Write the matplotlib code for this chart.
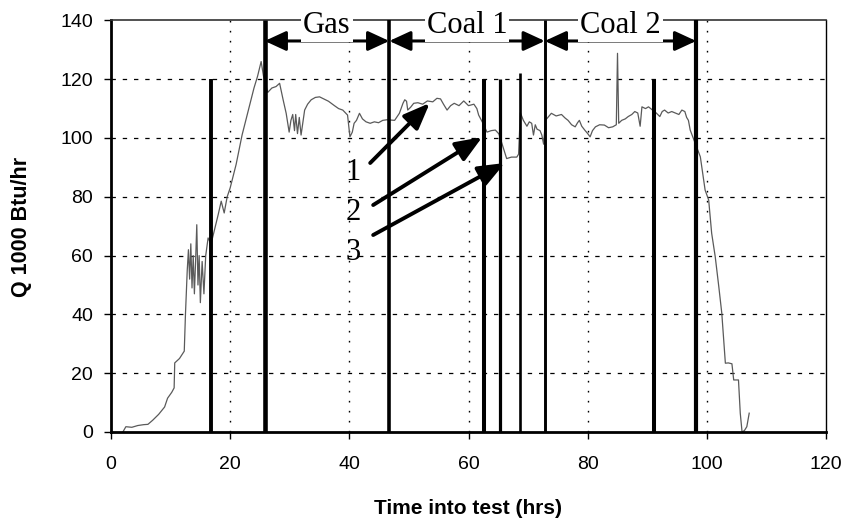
import matplotlib
matplotlib.use("Agg")
import matplotlib.pyplot as plt

# ---------------- data ----------------
time_hrs = [2.0, 2.5, 3.5, 4.5, 5.5, 6.2, 7.0, 8.0, 9.0, 9.5, 10.2, 10.6, 10.7, 11.5, 12.3,
            12.5, 12.8, 13.0, 13.2, 13.4, 13.6, 13.8, 14.0, 14.2, 14.4, 14.6, 14.8, 15.0,
            15.3, 15.6, 15.9, 16.3, 16.8, 17.4, 18.0, 18.5, 19.0, 19.5, 20.0, 21.0, 22.0,
            23.0, 24.0, 24.6, 25.2, 25.6, 26.3, 27.0, 27.7, 28.3, 28.9, 29.4, 29.9, 30.2,
            30.5, 30.8, 31.0, 31.3, 31.6, 31.9, 32.5, 33.0, 33.6, 34.3, 35.0, 35.7, 36.5,
            37.5, 38.2, 38.9, 39.7, 40.1, 40.5, 40.8, 41.2, 41.7, 42.2, 42.8, 43.5, 44.2,
            44.9, 45.6, 46.3, 47.6, 48.4, 49.0, 49.3, 49.6, 49.8, 50.3, 50.8, 51.5, 52.3,
            53.1, 54.0, 54.7, 55.3, 55.8, 56.4, 57.0, 57.6, 58.4, 59.2, 60.0, 60.9, 61.4,
            61.7, 62.3, 63.1, 63.8, 64.5, 65.1, 66.4, 67.2, 68.1, 68.4, 68.7, 69.2, 69.8,
            70.2, 70.6, 70.9, 71.2, 71.5, 72.0, 72.3, 72.6, 72.9, 73.9, 74.7, 75.6, 76.2,
            76.7, 77.3, 77.9, 78.3, 78.6, 79.0, 79.5, 80.0, 80.4, 80.8, 81.3, 82.0, 82.8,
            83.5, 84.2, 84.8, 85.0, 85.2, 85.7, 86.3, 86.8, 87.4, 87.9, 88.4, 88.8, 89.1,
            89.7, 90.2, 91.5, 92.1, 92.5, 92.9, 93.5, 94.1, 94.7, 95.3, 95.8, 96.3, 96.6,
            96.9, 97.2, 98.9, 99.3, 99.7, 100.3, 100.8, 101.4, 102.0, 102.5, 102.8, 103.1,
            103.6, 104.2, 104.5, 105.3, 105.6, 105.9, 106.3, 106.7, 107.1]
q_kbtu = [0.0, 1.8, 1.6, 2.2, 2.5, 2.6, 4.0, 6.0, 8.5, 11.5, 13.5, 15.0, 23.5, 25.0, 27.5,
          40.0, 55.0, 62.0, 52.0, 64.0, 49.0, 60.0, 47.0, 58.0, 70.5, 50.0, 60.0, 44.0,
          58.0, 47.0, 60.0, 66.0, 64.0, 69.0, 74.0, 78.5, 74.5, 80.0, 83.0, 91.0, 101.0,
          109.0, 117.0, 121.0, 126.0, 121.0, 115.5, 117.0, 117.5, 118.6, 112.9, 108.4, 102.0, 106.0,
          108.0, 102.5, 108.0, 101.5, 107.0, 101.0, 109.5, 111.5, 113.0, 113.8, 114.0, 113.3, 112.5,
          111.0, 110.0, 109.5, 107.8, 100.4, 102.0, 105.0, 106.0, 108.4, 106.5, 105.5, 105.0, 105.5,
          105.2, 106.0, 106.2, 106.0, 108.4, 111.8, 113.0, 112.5, 109.5, 110.5, 111.8, 112.0, 111.5,
          112.6, 112.3, 113.5, 113.3, 111.5, 109.5, 111.0, 111.8, 111.0, 112.6, 111.0, 111.5, 110.0,
          107.8, 105.5, 102.0, 102.5, 102.7, 101.4, 93.0, 93.5, 93.5, 94.5, 108.6, 106.0, 104.0,
          105.5, 105.0, 101.0, 104.5, 103.0, 102.5, 101.0, 97.9, 106.0, 108.4, 107.5, 108.0, 106.8,
          106.0, 104.5, 103.8, 105.2, 106.0, 104.0, 102.7, 101.5, 100.4, 102.5, 103.8, 104.5, 104.4,
          103.5, 103.8, 104.5, 128.8, 105.0, 106.0, 106.5, 107.3, 108.0, 109.0, 108.5, 104.0, 110.6,
          110.0, 110.6, 108.5, 107.3, 109.0, 109.5, 108.5, 109.0, 108.5, 108.0, 109.5, 109.0, 107.0,
          106.0, 102.7, 93.6, 88.0, 82.3, 78.9, 67.6, 59.6, 49.4, 40.4, 32.0, 23.4,
          23.5, 23.2, 17.7, 17.7, 6.4, 0.0, 0.5, 1.8, 6.4]

marker_x = [16.8, 25.8, 46.7, 62.6, 65.3, 68.6, 72.8, 91.1, 98.2]
marker_top = [120, 140, 140, 120, 120, 122, 140, 120, 140]

phase_labels = ["Gas", "Coal 1", "Coal 2"]
phase_start = [25.8, 46.7, 72.8]
phase_end = [46.7, 72.8, 98.2]

point_labels = ["1", "2", "3"]
point_label_xy = [(40.6, 88.4), (40.6, 74.8), (40.6, 61.2)]
point_tail = [(43.5, 91.5), (44.0, 77.2), (44.0, 67.0)]
point_head = [(53.5, 111.9), (62.3, 100.3), (66.1, 91.5)]

x_ticks = [0, 20, 40, 60, 80, 100, 120]
y_ticks = [0, 20, 40, 60, 80, 100, 120, 140]

# ---------------- styles ----------------
marker_widths = [2.8, 3.3, 2.6, 2.9, 2.3, 1.9, 2.1, 2.9, 3.0]
serif = ["Liberation Serif", "DejaVu Serif"]
sans = ["Liberation Sans", "DejaVu Sans"]

fig = plt.figure(figsize=(8.49, 5.23), dpi=100)
ax = fig.add_axes([0.1307, 0.174, 0.8423, 0.787])
ax.set_xlim(0, 120)
ax.set_ylim(0, 140)

# grid
for yv in y_ticks[1:-1]:
    l, = ax.plot([0, 120], [yv, yv], color="black", lw=0.9, zorder=1)
    l.set_dashes([3.5, 5.5])
for xv in x_ticks[1:-1]:
    l, = ax.plot([xv, xv], [0, 140], color="black", lw=1.0, zorder=1)
    l.set_dashes([1.2, 6.0])

# data
ax.plot(time_hrs, q_kbtu, color="#5a5a5a", lw=0.9, zorder=2)

# marker lines
for xm, top, w in zip(marker_x, marker_top, marker_widths):
    ax.plot([xm, xm], [0, top], color="black", lw=w, solid_capstyle="butt", zorder=4)

# phase arrows
for lab, s, e in zip(phase_labels, phase_start, phase_end):
    ax.annotate("", xy=(e, 133), xytext=(s, 133),
                arrowprops=dict(arrowstyle="<|-|>,head_length=0.65,head_width=0.3",
                                lw=2.2, color="black",
                                mutation_scale=20, shrinkA=0, shrinkB=0), zorder=5)
    ax.text((s + e) / 2, 135.6, lab, ha="center", va="baseline", fontsize=22,
            family=serif, zorder=6,
            bbox=dict(facecolor="white", edgecolor="none", pad=1.5))

# numbered arrows
for lab, lxy, t, h in zip(point_labels, point_label_xy, point_tail, point_head):
    ax.text(lxy[0], lxy[1], lab, ha="center", va="center", fontsize=22, family=serif, zorder=6)
    ax.annotate("", xy=h, xytext=t,
                arrowprops=dict(arrowstyle="-|>,head_length=0.8,head_width=0.32",
                                lw=2.8, color="black",
                                mutation_scale=20, shrinkA=0, shrinkB=0), zorder=5)

# spines
ax.spines["left"].set_linewidth(2.0)
ax.spines["bottom"].set_linewidth(2.0)
ax.spines["right"].set_linewidth(1.0)
ax.spines["top"].set_linewidth(1.2)
ax.spines["top"].set_color("#333333")

ax.set_xticks(x_ticks)
ax.set_yticks(y_ticks)
ax.set_xticklabels([str(v) for v in x_ticks], family=sans, fontsize=14)
ax.set_yticklabels([str(v) for v in y_ticks], family=sans, fontsize=14)
ax.tick_params(axis="x", direction="out", length=5, width=1, pad=12)
ax.tick_params(axis="y", direction="out", length=5, width=1, pad=8)

fig.text(0.5518, 1 - 508 / 523, "Time into test (hrs)", ha="center", va="center",
         fontsize=15, fontweight="bold", family=sans)
fig.text(22 / 849, 1 - 227 / 523, "Q 1000 Btu/hr", ha="center", va="center",
         rotation=90, fontsize=15.5, fontweight="bold", family=sans)

fig.savefig("out.png", dpi=100)
